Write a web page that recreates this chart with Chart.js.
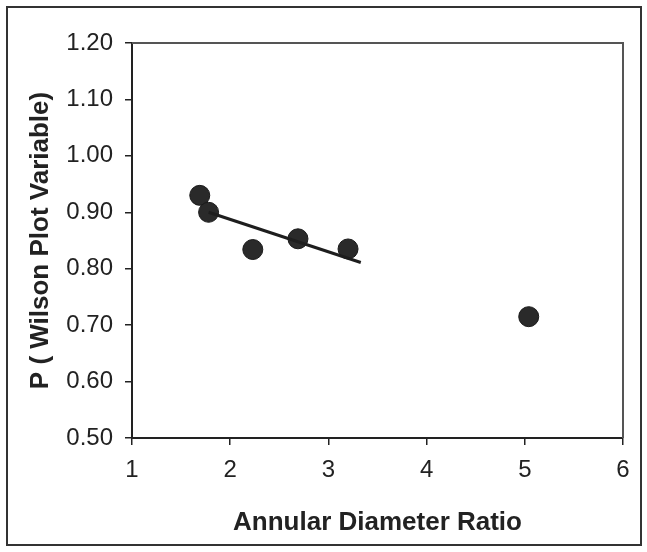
<!DOCTYPE html>
<html><head><meta charset="utf-8">
<script src="https://cdn.jsdelivr.net/npm/chart.js@4.4.1/dist/chart.umd.min.js"></script>
<style>html,body{margin:0;padding:0;background:#fff}#wrap{width:647px;height:552px}</style>
</head><body><div id="wrap"><canvas id="c" width="647" height="552"></canvas></div>
<script>
const diameterRatio = [1.69, 1.78, 2.23, 2.69, 3.20, 5.04];
const wilsonP = [0.93, 0.90, 0.834, 0.853, 0.835, 0.715];
const trendX = [1.78, 3.33];
const trendY = [0.90, 0.811];
const xTicks = [1, 2, 3, 4, 5, 6];
const yTicks = [0.5, 0.6, 0.7, 0.8, 0.9, 1.0, 1.1, 1.2];

const frame = {
  id: 'frame',
  beforeDraw(chart) {
    const ctx = chart.ctx;
    ctx.save();
    ctx.fillStyle = '#fff';
    ctx.fillRect(0, 0, chart.width, chart.height);
    ctx.strokeStyle = '#333';
    ctx.lineWidth = 2;
    ctx.strokeRect(7, 7, 634, 538);
    ctx.restore();
  },
  afterDatasetsDraw(chart) {
    const a = chart.chartArea, ctx = chart.ctx;
    ctx.save();
    ctx.strokeStyle = '#555';
    ctx.lineWidth = 2;
    ctx.beginPath();
    ctx.moveTo(a.left, a.top); ctx.lineTo(a.right, a.top); ctx.lineTo(a.right, a.bottom);
    ctx.stroke();
    ctx.restore();
  }
};

const FONT = 'Liberation Sans, Arial, sans-serif';

new Chart(document.getElementById('c'), {
  type: 'scatter',
  data: {
    datasets: [
      {
        type: 'line',
        data: trendX.map((x, i) => ({x, y: trendY[i]})),
        borderColor: '#1e1e1e', borderWidth: 3, pointRadius: 0, fill: false, showLine: true
      },
      {
        data: diameterRatio.map((x, i) => ({x, y: wilsonP[i]})),
        backgroundColor: '#2a2a2a', borderColor: '#1a1a1a', borderWidth: 1,
        pointRadius: 10, pointHoverRadius: 10
      }
    ]
  },
  options: {
    responsive: false, animation: false, devicePixelRatio: 1,
    layout: { padding: { left: 16, top: 43, right: 24, bottom: 14 } },
    plugins: { legend: { display: false }, tooltip: { enabled: false } },
    scales: {
      x: {
        type: 'linear', min: 1, max: 6,
        afterBuildTicks(s) { s.ticks = xTicks.map(v => ({value: v})); },
        afterFit(s) { s.height = 100; },
        grid: { drawOnChartArea: false, drawTicks: true, tickLength: 7, color: '#222', lineWidth: 1.5 },
        border: { color: '#222', width: 2 },
        ticks: { color: '#222', font: { family: FONT, size: 24 }, padding: 11, maxRotation: 0 },
        title: { display: true, text: 'Annular Diameter Ratio', color: '#222',
          font: { family: FONT, size: 26, weight: 'bold' }, padding: { top: 10, bottom: 0 } }
      },
      y: {
        type: 'linear', min: 0.5, max: 1.2,
        afterBuildTicks(s) { s.ticks = yTicks.map(v => ({value: v})); },
        afterFit(s) { s.width = 116; },
        grid: { drawOnChartArea: false, drawTicks: true, tickLength: 7, color: '#222', lineWidth: 1.5 },
        border: { color: '#222', width: 2 },
        ticks: { color: '#222', font: { family: FONT, size: 24 }, padding: 12,
          callback: v => v.toFixed(2) },
        title: { display: true, text: 'P ( Wilson Plot Variable)', color: '#222',
          font: { family: FONT, size: 26, weight: 'bold' }, padding: { top: 9, bottom: 0 } }
      }
    }
  },
  plugins: [frame]
});
</script></body></html>
